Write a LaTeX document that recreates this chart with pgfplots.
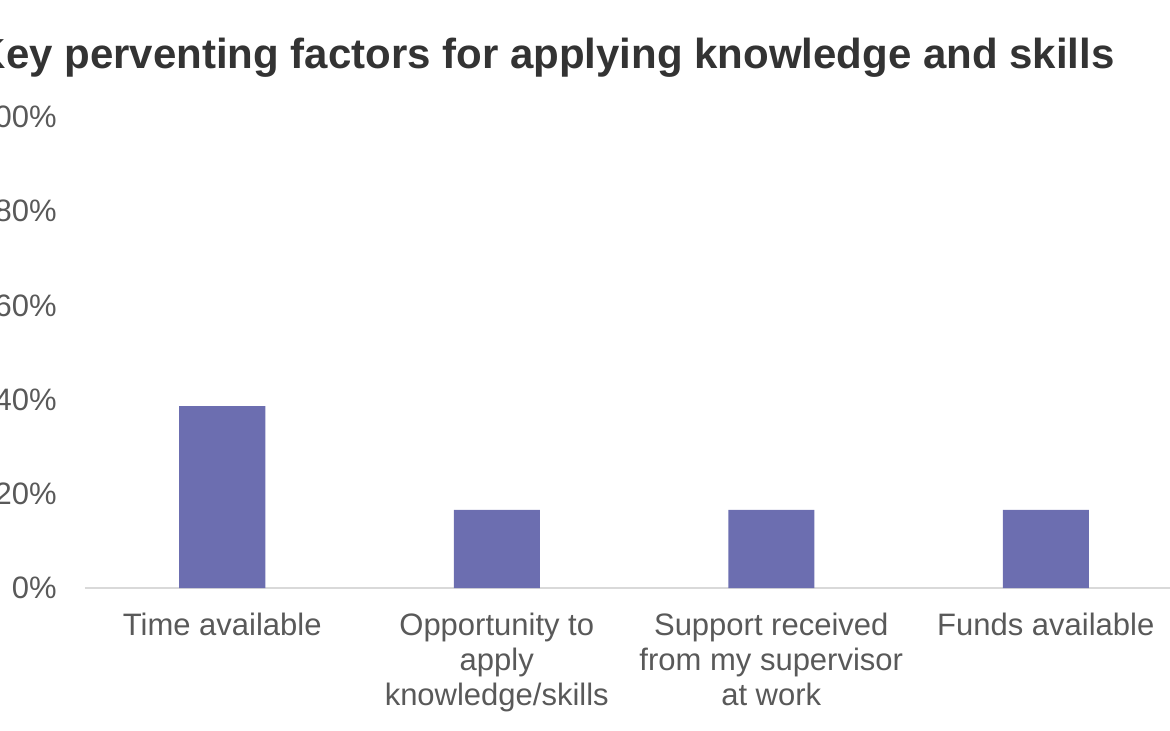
\documentclass[border=0pt]{standalone}
\usepackage{pgfplots}
\pgfplotsset{compat=1.18}
\usepackage{fontspec}
\setmainfont{Liberation Sans}

\definecolor{barcol}{RGB}{108,110,176}
\definecolor{ticktext}{RGB}{89,89,89}
\definecolor{titletext}{RGB}{51,51,51}
\definecolor{baseline}{RGB}{217,217,217}

\begin{document}
\begin{tikzpicture}
% page as the reference shows it (left side is cut off there too)
\useasboundingbox (-42.5pt,-71pt) rectangle (542.5pt,294pt);
\begin{axis}[
    name=ax,
    at={(0,0)}, anchor=south west,
    scale only axis,
    width=549pt, height=235.5pt,
    xmin=-0.5, xmax=3.5,
    ymin=0, ymax=100,
    enlargelimits=false,
    axis x line=bottom,
    axis y line=left,
    axis line style={-},
    x axis line style={draw=baseline, line width=1pt},
    y axis line style={draw=none},
    major tick length=0pt,
    xtick=data,
    xticklabels={Time available,
        {Opportunity to\\apply\\knowledge/skills},
        {Support received\\from my supervisor\\at work},
        Funds available},
    xticklabel style={align=center, inner sep=0pt, yshift=-12.5pt,
        font=\fontsize{15.5}{17.5}\selectfont, text=ticktext},
    ytick={0,20,40,60,80,100},
    yticklabels={0\%,20\%,40\%,60\%,80\%,100\%},
    yticklabel style={inner sep=0pt, xshift=-14pt,
        font=\fontsize{15.5}{17.5}\selectfont, text=ticktext},
]
\addplot[ybar, bar width=43pt, fill=barcol, draw=none]
coordinates {
    (0, 38.6)
    (1, 16.6)
    (2, 16.6)
    (3, 16.6)
};
\end{axis}
\node[anchor=base east, inner sep=0pt, text=titletext,
    font=\fontsize{21}{25}\selectfont\bfseries]
    at (515pt,260pt) {Key perventing factors for applying knowledge and skills};
\end{tikzpicture}
\end{document}
